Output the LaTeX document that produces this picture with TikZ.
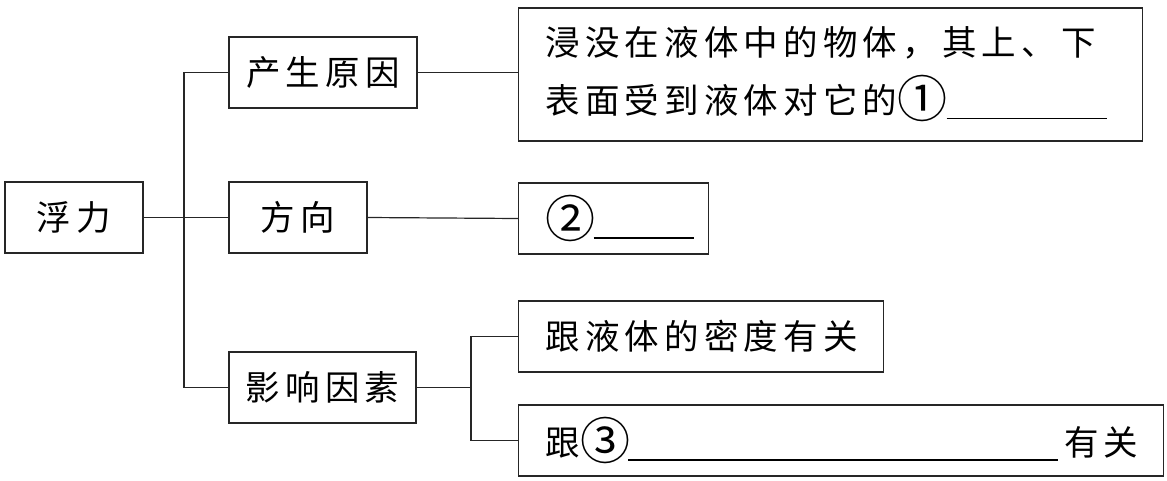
\documentclass[tikz,border=0pt]{standalone}
\usepackage{fontspec}
\newfontfamily\cjk[LetterSpace=15]{Noto Sans CJK SC}
\newcommand{\circnum}[1]{\raisebox{-4pt}{\scalebox{1.45}{#1}}\hspace{-3pt}}
\begin{document}
\begin{tikzpicture}[x=1pt,y=-1pt,line width=1.2pt,
  box/.style={draw=black!85,inner sep=0pt,font=\cjk\fontsize{34.5}{58}\selectfont},
  lbox/.style={box,align=left,inner xsep=27pt,anchor=west}]
\useasboundingbox (0,0) rectangle (1167,480);
\node[box,minimum width=138pt,minimum height=71pt] (fu) at (74,217.5) {浮力};
\node[box,minimum width=188pt,minimum height=71pt] (cs) at (323,72.5) {产生原因};
\node[box,minimum width=138pt,minimum height=71pt] (fx) at (298,217.5) {方向};
\node[box,minimum width=187pt,minimum height=71pt] (yx) at (322.5,387.5) {影响因素};
\node[lbox,text width=570pt,minimum height=133pt] (t1) at (518,74.5)
  {浸没在液体中的物体，其上、下\\\mbox{表面受到液体对它的\circnum{①}\hspace{2pt}\rule[-5pt]{160pt}{1.2pt}}};
\node[lbox,text width=136pt,minimum height=71pt] (t2) at (518,218.5)
  {\mbox{\circnum{②}\hspace{1pt}\rule[-5pt]{100pt}{1.2pt}}};
\node[lbox,text width=591pt,minimum height=71pt] (t4) at (518,440.5)
  {\mbox{跟\circnum{③}\hspace{1pt}\rule[-5pt]{430pt}{1.2pt}\hspace{6pt}有关}};
\node[lbox,text width=311pt,minimum height=71pt] (t3) at (518,336.5) {跟液体的密度有关};
\coordinate (j1) at (184,217.5);
\coordinate (j2) at (471,387.5);
\draw[draw=black!85] (fu.east) -- (fx.west);
\draw[draw=black!85] (cs.west) -- (cs.west -| j1) -- (yx.west -| j1) -- (yx.west);
\draw[draw=black!85] (cs.east) -- (cs.east -| t1.west);
\draw[draw=black!85] (fx.east) -- (t2.west);
\draw[draw=black!85] (yx.east) -- (j2);
\draw[draw=black!85] (t3.west) -- (t3.west -| j2) -- (t4.west -| j2) -- (t4.west);
\end{tikzpicture}
\end{document}
